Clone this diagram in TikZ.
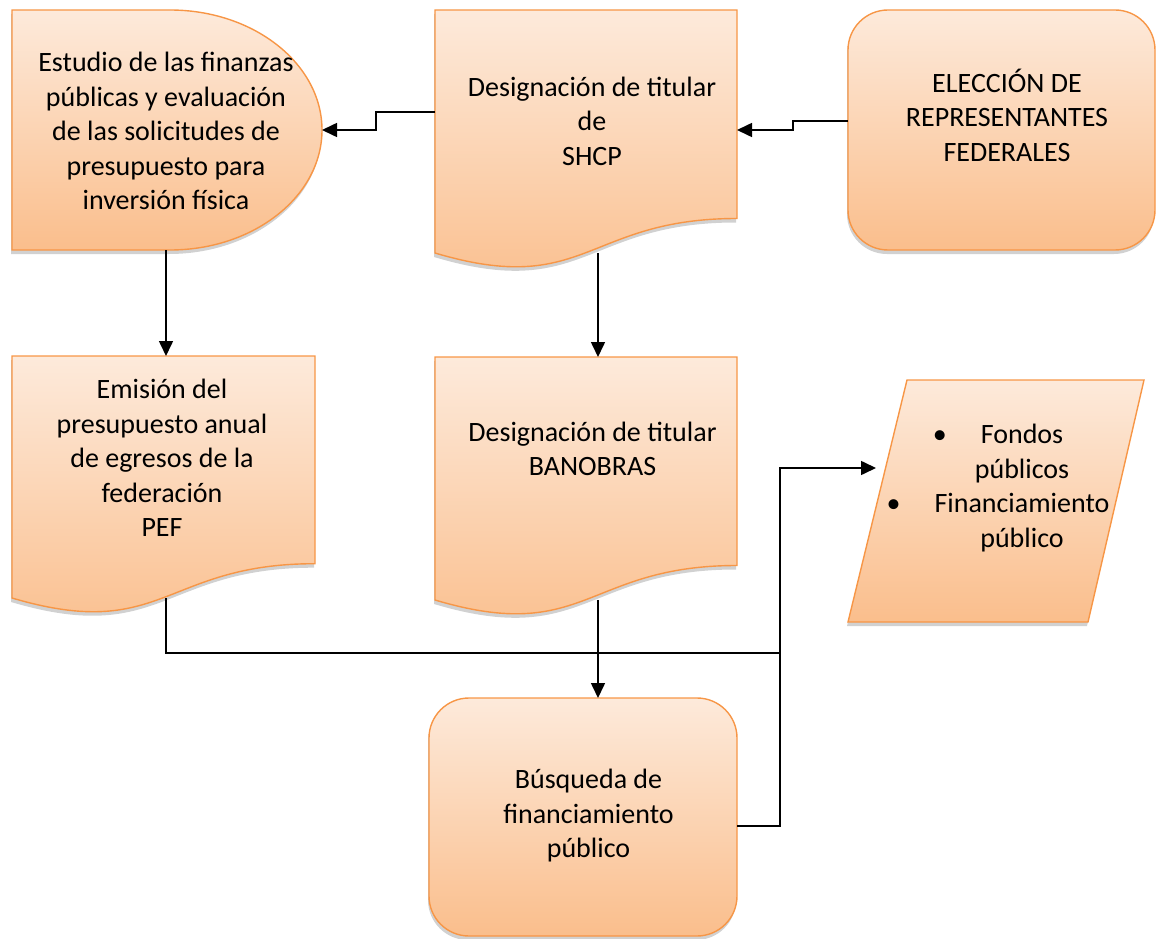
\documentclass[tikz,border=0pt]{standalone}
\usepackage{fontspec}
\setmainfont{Carlito}
\usetikzlibrary{arrows.meta,calc,shadows}
\definecolor{obord}{RGB}{247,150,70}
\definecolor{otop}{RGB}{253,234,219}
\definecolor{obot}{RGB}{250,190,140}
\tikzset{
 shapefill/.style={draw=obord, line width=1.4pt, top color=otop, bottom color=obot,
   drop shadow={shadow xshift=-1pt, shadow yshift=-4pt, opacity=0.3, fill=black!60}},
 box/.style={inner sep=0pt, outer sep=0pt},
 txt/.style={align=center, inner sep=0pt, font=\fontsize{28}{34.5}\selectfont},
 conn/.style={line width=1.6pt, draw=black},
 arr/.style={conn, -{Triangle[length=15pt,width=14pt]}},
}
\begin{document}
\begin{tikzpicture}[x=1pt,y=-1pt]
\useasboundingbox (0,0) rectangle (1157,939);

% shapes
\path[shapefill] (12,10) -- (170,10) .. controls (254,10) and (322,64) .. (322,130)
  .. controls (322,196) and (254,250) .. (170,250) -- (12,250) -- cycle;
\path[shapefill] (435,10) -- (737,10) -- (737,218.5) .. controls (586,218.5) and (586,298) .. (435,253) -- cycle;
\path[shapefill, rounded corners=40pt] (848,10) rectangle (1155,250);
\path[shapefill] (12,356) -- (315,356) -- (315,563.7) .. controls (163.5,563.7) and (163.5,642.8) .. (12,598) -- cycle;
\path[shapefill] (435,357) -- (737,357) -- (737,565.5) .. controls (586,565.5) and (586,645) .. (435,600) -- cycle;
\path[shapefill] (907,380) -- (1144,380) -- (1088,622) -- (848,622) -- cycle;
\path[shapefill, rounded corners=40pt] (429,698) rectangle (737,936);

% anchor boxes
\node[box, minimum width=310pt, minimum height=240pt] (estudio) at (167,130) {};
\node[box, minimum width=302pt, minimum height=243pt] (shcp) at (586,131.5) {};
\node[box, minimum width=307pt, minimum height=240pt] (eleccion) at (1001.5,130) {};
\node[box, minimum width=303pt, minimum height=242pt] (emision) at (163.5,477) {};
\node[box, minimum width=302pt, minimum height=243pt] (banobras) at (586,478.5) {};
\node[box, minimum width=296pt, minimum height=242pt] (fondos) at (996,501) {};
\node[box, minimum width=308pt, minimum height=238pt] (busqueda) at (583,817) {};
\coordinate (junc) at (780,653);

% texts
\node[txt] (estudio-t) at (166,131) {Estudio de las finanzas\\públicas y evaluación\\de las solicitudes de\\presupuesto para\\inversión física};
\node[txt] (shcp-t) at (592,121) {Designación de titular\\de\\SHCP};
\node[txt] (eleccion-t) at (1007,115) {ELECCIÓN DE\\REPRESENTANTES\\FEDERALES};
\node[txt] (emision-t) at (162,458) {Emisión del\\presupuesto anual\\de egresos de la\\federación\\PEF};
\node[txt] (banobras-t) at (592.5,449) {Designación de titular\\BANOBRAS};
\node[txt] (busqueda-t) at (588.5,816) {Búsqueda de\\financiamiento\\público};
\node[txt] (fondos-t) at (1022,488) {\makebox[0pt][r]{\textbullet\hspace{34pt}}Fondos\\públicos\\\makebox[0pt][r]{\textbullet\hspace{34pt}}Financiamiento\\público};

% connectors
\draw[arr] ($(shcp.north west)+(0,102)$) -- ++(-59,0) |- (estudio.east);
\draw[arr] ($(eleccion.north west)+(0,111)$) -- ++(-55,0) |- ($(shcp.north east)+(0,120)$);
\draw[arr] ([xshift=-1pt]estudio.south) -- ([xshift=-1pt]estudio.south |- emision.north);
\draw[arr] ([xshift=12pt]shcp.south) -- ([xshift=12pt]shcp.south |- banobras.north);
\draw[arr] ([xshift=12pt]banobras.south) -- ([xshift=12pt]banobras.south |- busqueda.north);
\draw[conn] ([xshift=2.5pt]emision.south) |- (junc);
\draw[arr] ([yshift=-9pt]busqueda.east) -| (junc) |- ($(fondos.west)+(28,-33)$);
\end{tikzpicture}
\end{document}
